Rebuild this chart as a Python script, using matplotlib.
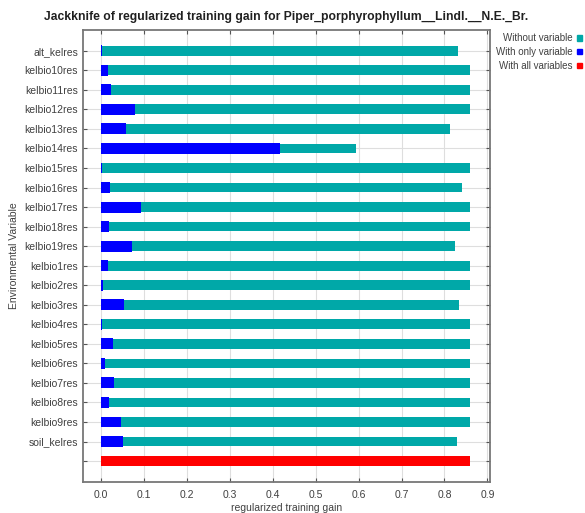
import matplotlib
matplotlib.use('Agg')
import matplotlib.pyplot as plt
from matplotlib.patches import Patch

title = "Jackknife of regularized training gain for Piper_porphyrophyllum__Lindl.__N.E._Br."
xlabel = "regularized training gain"
ylabel = "Environmental Variable"

variables = ['alt_kelres', 'kelbio10res', 'kelbio11res', 'kelbio12res', 'kelbio13res',
             'kelbio14res', 'kelbio15res', 'kelbio16res', 'kelbio17res', 'kelbio18res',
             'kelbio19res', 'kelbio1res', 'kelbio2res', 'kelbio3res', 'kelbio4res',
             'kelbio5res', 'kelbio6res', 'kelbio7res', 'kelbio8res', 'kelbio9res',
             'soil_kelres']
without_var = [0.832, 0.860, 0.860, 0.860, 0.814,
               0.595, 0.860, 0.840, 0.860, 0.860,
               0.824, 0.860, 0.860, 0.834, 0.860,
               0.860, 0.860, 0.860, 0.860, 0.860,
               0.828]
only_var = [0.003, 0.017, 0.024, 0.078, 0.059,
            0.418, 0.002, 0.022, 0.094, 0.019,
            0.072, 0.016, 0.005, 0.053, 0.002,
            0.028, 0.009, 0.030, 0.018, 0.047,
            0.051]
all_vars = 0.860

teal = '#00a8a8'
blue = '#0000ff'
red = '#ff0000'
txt = '#404040'

plt.rcParams['font.family'] = ['Liberation Sans', 'DejaVu Sans']

fig = plt.figure(figsize=(5.85, 5.13), dpi=100)
ax = fig.add_axes([0.1419, 0.0604, 0.6957, 0.8811])

ypos = list(range(len(variables)))
ax.barh(ypos, without_var, height=0.5, color=teal, zorder=2)
ax.barh(ypos, only_var, height=0.56, color=blue, zorder=3)
ax.barh([len(variables)], [all_vars], height=0.5, color=red, zorder=2)

ax.set_ylim(len(variables) + 1.07, -1.06)
ax.set_xlim(-0.042, 0.906)
ax.set_xticks([i / 10 for i in range(10)])
ax.set_xticklabels(['%.1f' % (i / 10) for i in range(10)])
ax.set_yticks(ypos + [len(variables)])
ax.set_yticklabels(variables + [''])

ax.grid(True, color='#dedede', linewidth=0.8, zorder=0)
ax.set_axisbelow(True)
ax.tick_params(direction='in', length=3, width=0.8, color='#555555',
               labelsize=7.5, labelcolor=txt, top=True, right=True)
ax.tick_params(axis='x', pad=6)
for s in ax.spines.values():
    s.set_color('#777777')
    s.set_linewidth(1.3)

ax.set_xlabel(xlabel, fontsize=7.5, color=txt, labelpad=2)
ax.set_ylabel(ylabel, fontsize=7.5, color=txt, labelpad=4)
ax.set_title(title, fontsize=8.75, fontweight='bold', color='#202020', pad=7)

handles = [Patch(color=teal), Patch(color=blue), Patch(color=red)]
labels = ['Without variable', 'With only variable', 'With all variables']
ax.legend(handles, labels, loc='upper left', bbox_to_anchor=(1.005, 1.001),
          frameon=False, markerfirst=False, handlelength=0.45, handleheight=0.45,
          handletextpad=0.5, labelspacing=0.37, fontsize=7, labelcolor=txt,
          borderaxespad=0)

plt.savefig('out.png', dpi=100)
